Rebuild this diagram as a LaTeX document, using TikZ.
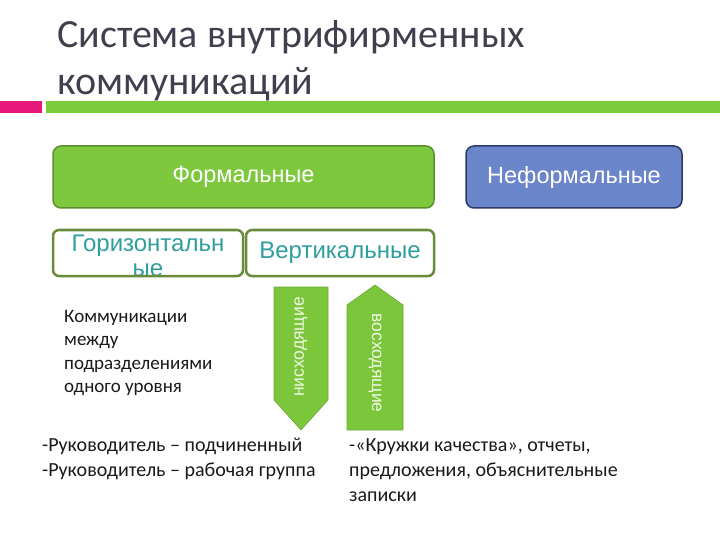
\documentclass[tikz,border=0pt]{standalone}
\usepackage{fontspec}
\setmainfont{Carlito}
\newfontfamily\arialfont{Liberation Sans}
\definecolor{titlegray}{HTML}{3F3F4E}
\definecolor{barred}{HTML}{E5177A}
\definecolor{bargreen}{HTML}{7ACC3B}
\definecolor{formgreen}{HTML}{7DC83D}
\definecolor{formborder}{HTML}{5B8E2F}
\definecolor{informblue}{HTML}{6A85C9}
\definecolor{informborder}{HTML}{2B3A66}
\definecolor{boxolive}{HTML}{6A8B3B}
\definecolor{boxteal}{HTML}{2F9E9E}
\definecolor{arrowgreen}{HTML}{7CC63C}
\definecolor{arrowtextcol}{HTML}{EEF7E0}
\begin{document}
\begin{tikzpicture}[x=1pt,y=-1pt,
  titletext/.style={anchor=base west, inner sep=0, text=titlegray, font=\fontsize{40}{47}\selectfont},
  bigbox/.style={rounded corners=8pt, line width=1.5pt, minimum height=62pt, text=white, font=\arialfont\fontsize{23.5}{26}\selectfont},
  smallbox/.style={draw=boxolive, line width=2.5pt, rounded corners=6pt, minimum height=46pt, text=boxteal, font=\arialfont\fontsize{24}{26}\selectfont},
  bodytext/.style={anchor=north west, inner sep=0, align=left, text=black!90, font=\fontsize{19}{23.5}\selectfont},
  blockarrow/.style={fill=arrowgreen, draw=arrowgreen!85!black, line width=0.6pt},
  arrowtext/.style={text=arrowtextcol, font=\arialfont\fontsize{17.5}{19}\selectfont}]
\useasboundingbox (0,0) rectangle (720,540);
\node[titletext] (title1) at (57,48) {Система внутрифирменных};
\node[titletext] (title2) at (57,95) {коммуникаций};
\fill[barred] (0,101) rectangle (42,113);
\fill[bargreen] (46,101) rectangle (720,113);
\node[bigbox, draw=formborder, fill=formgreen, minimum width=381pt] (formal) at (243.5,177) {Формальные};
\node[bigbox, draw=informborder, fill=informblue, minimum width=216pt] (informal) at (574,177) {Неформальные};
\node[smallbox, fill=white, draw=none, minimum width=190pt] (horiz) at (148,253) {};
\begin{scope}
\clip (horiz.south west) rectangle (horiz.north east);
\node[align=center, text=boxteal, font=\arialfont\fontsize{24}{25}\selectfont] (horiztext) at (148,256) {Горизонтальн\\ые};
\end{scope}
\node[smallbox, minimum width=190pt] at (horiz) {};
\node[smallbox, fill=white, minimum width=188pt] (vert) at (340,253) {Вертикальные};
\node[bodytext] (horizdesc) at (64,310) {Коммуникации\\между\\подразделениями\\одного уровня};
\filldraw[blockarrow] (274,287) -- (328,287) -- (328,400) -- (301,430) -- (274,400) -- cycle;
\node[arrowtext, rotate=90] (down) at (301,347) {нисходящие};
\filldraw[blockarrow] (375,285) -- (403,305) -- (403,430) -- (347,430) -- (347,305) -- cycle;
\node[arrowtext, rotate=-90] (up) at (375,363) {восходящие};
\node[bodytext, font=\fontsize{20}{25}\selectfont] (downdesc) at (42,438) {-Руководитель – подчиненный\\-Руководитель – рабочая группа};
\node[bodytext, font=\fontsize{20}{25}\selectfont] (updesc) at (349,438) {-«Кружки качества», отчеты,\\предложения, объяснительные\\записки};
\end{tikzpicture}
\end{document}
